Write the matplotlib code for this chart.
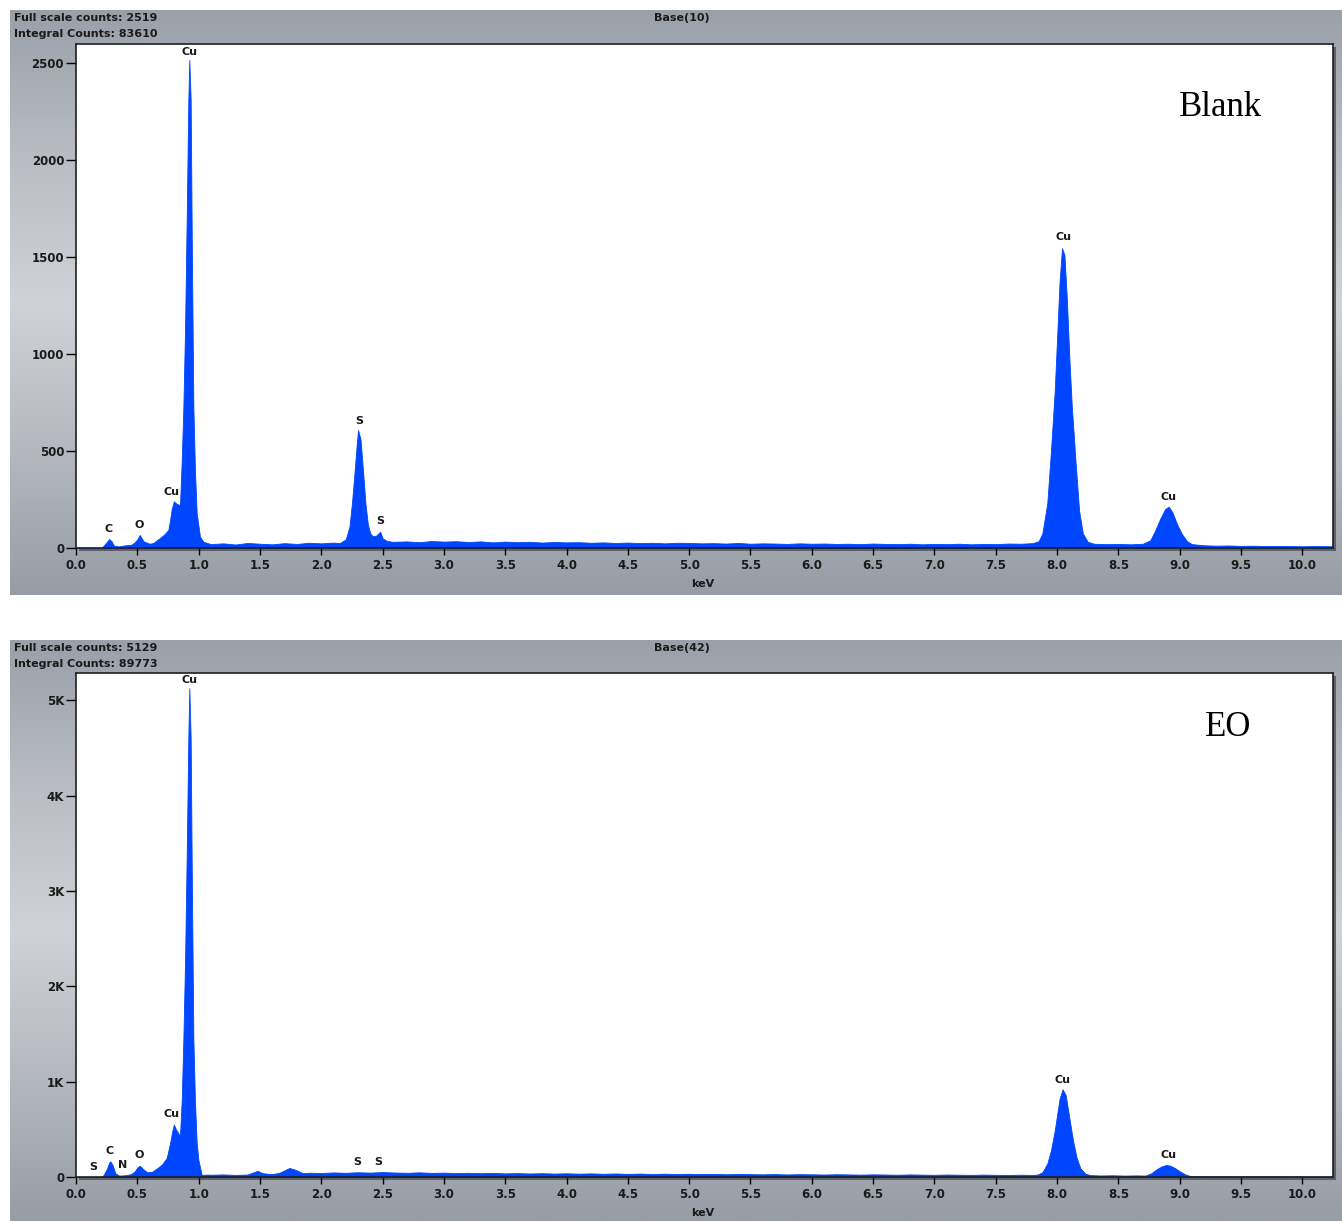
import numpy as np
import matplotlib
matplotlib.use("Agg")
import matplotlib.pyplot as plt
from matplotlib.colors import LinearSegmentedColormap
from matplotlib.patches import Rectangle

W, H = 1342, 1221

### Data (keV, counts)
blank_kev = [0.00, 0.20, 0.22, 0.25, 0.27, 0.29, 0.31, 0.35, 0.40, 0.45, 0.48, 0.50, 0.52, 0.55,
             0.60, 0.63, 0.685, 0.72, 0.753, 0.767, 0.78, 0.798, 0.82, 0.848, 0.862, 0.875, 0.889,
             0.903, 0.916, 0.924, 0.935, 0.944, 0.957, 0.970, 0.984, 1.011, 1.04,
             1.1, 1.2, 1.3, 1.4, 1.5, 1.6, 1.7, 1.8, 1.9, 2.0, 2.1, 2.15,
             2.20, 2.23, 2.25, 2.27, 2.29, 2.30, 2.32, 2.34, 2.36, 2.38, 2.40, 2.42, 2.45, 2.48,
             2.50, 2.53, 2.58,
             2.7, 2.8, 2.9, 3.0, 3.1, 3.2, 3.3, 3.4, 3.5, 3.6, 3.7, 3.8, 3.9, 4.0, 4.1, 4.2, 4.3,
             4.4, 4.5, 4.6, 4.7, 4.8, 4.9, 5.0, 5.1, 5.2, 5.3, 5.4, 5.5, 5.6, 5.7, 5.8, 5.9, 6.0,
             6.1, 6.2, 6.3, 6.4, 6.5, 6.6, 6.7, 6.8, 6.9, 7.0, 7.1, 7.2, 7.3, 7.4, 7.5, 7.6, 7.7,
             7.8, 7.85, 7.88, 7.92, 7.95, 7.98, 8.00, 8.02, 8.04, 8.06, 8.08, 8.10, 8.12, 8.15,
             8.18, 8.21, 8.25, 8.3, 8.4, 8.5, 8.6, 8.7, 8.76, 8.80, 8.84, 8.88, 8.91, 8.94, 8.98,
             9.02, 9.06, 9.10, 9.2, 9.3, 9.4, 9.5, 9.6, 9.7, 9.8, 9.9, 10.0, 10.1, 10.25]
blank_counts = [0, 0, 8, 30, 46, 35, 12, 8, 14, 16, 30, 45, 67, 35,
                22, 26, 52, 70, 93, 144, 200, 240, 228, 221, 450, 711, 1124,
                1708, 2309, 2515, 2309, 1588, 728, 400, 180, 58, 32,
                20, 24, 18, 26, 22, 19, 25, 21, 27, 24, 28, 25,
                45, 110, 230, 380, 540, 608, 560, 400, 230, 120, 75, 60, 65, 84,
                50, 38, 32,
                34, 30, 36, 33, 35, 31, 34, 29, 33, 30, 32, 28, 31, 29, 30, 27, 29,
                26, 28, 25, 27, 24, 27, 26, 24, 25, 23, 26, 22, 24, 23, 21, 24, 22,
                23, 21, 22, 20, 23, 21, 20, 22, 19, 21, 20, 22, 19, 21, 20, 23, 22,
                25, 35, 75, 230, 500, 800, 1080, 1370, 1545, 1510, 1280, 980, 730, 450,
                190, 75, 32, 22, 20, 21, 19, 22, 40, 90, 150, 200, 213, 185, 120,
                70, 35, 20, 14, 12, 13, 11, 12, 10, 11, 10, 9, 10, 9]

eo_kev = [0.00, 0.20, 0.22, 0.25, 0.27, 0.28, 0.30, 0.32, 0.35, 0.40, 0.45, 0.48, 0.50, 0.52,
          0.55, 0.58, 0.62, 0.66, 0.70, 0.74, 0.767, 0.785, 0.798, 0.815, 0.848, 0.862, 0.875,
          0.889, 0.903, 0.916, 0.924, 0.935, 0.944, 0.957, 0.970, 0.984, 0.998, 1.025, 1.06,
          1.1, 1.2, 1.3, 1.4, 1.45, 1.48, 1.52, 1.6, 1.66, 1.70, 1.74, 1.78, 1.85, 1.9, 2.0,
          2.1, 2.2, 2.3, 2.4, 2.5, 2.6, 2.7, 2.8, 2.9, 3.0, 3.1, 3.2, 3.3, 3.4, 3.5, 3.6, 3.7,
          3.8, 3.9, 4.0, 4.1, 4.2, 4.3, 4.4, 4.5, 4.6, 4.7, 4.8, 4.9, 5.0, 5.1, 5.2, 5.3, 5.4,
          5.5, 5.6, 5.7, 5.8, 5.9, 6.0, 6.1, 6.2, 6.3, 6.4, 6.5, 6.6, 6.7, 6.8, 6.9, 7.0, 7.1,
          7.2, 7.3, 7.4, 7.5, 7.6, 7.7, 7.8, 7.84, 7.88, 7.92, 7.95, 7.98, 8.00, 8.02, 8.045,
          8.07, 8.09, 8.11, 8.13, 8.16, 8.19, 8.23, 8.27, 8.35, 8.45, 8.55, 8.65, 8.72, 8.77,
          8.81, 8.85, 8.89, 8.92, 8.96, 9.00, 9.04, 9.08, 9.15, 9.3, 9.5, 9.7, 9.9, 10.1, 10.25]
eo_counts = [0, 0, 10, 80, 150, 165, 120, 40, 15, 18, 30, 60, 100, 118,
             80, 50, 55, 90, 130, 200, 357, 480, 550, 500, 430, 808, 1420,
             2250, 3400, 4600, 5129, 4600, 3200, 1450, 800, 360, 179, 21, 25,
             24, 27, 22, 26, 50, 65, 40, 30, 45, 70, 95, 80, 40, 45, 42,
             48, 44, 50, 46, 52, 47, 44, 49, 43, 46, 41, 44, 40, 43, 38, 41, 37,
             40, 36, 39, 35, 38, 34, 37, 33, 36, 32, 35, 31, 34, 30, 33, 29, 32,
             30, 28, 31, 27, 30, 28, 26, 29, 27, 25, 28, 26, 24, 27, 25, 23, 26,
             24, 22, 25, 23, 21, 24, 22, 25, 50, 140, 280, 480, 650, 820, 920,
             860, 700, 540, 380, 200, 90, 35, 20, 16, 18, 15, 17, 15, 40,
             80, 110, 126, 120, 95, 60, 30, 12, 8, 7, 6, 7, 6, 5, 5]

# peak labels: (text, keV, counts)
blank_labels = [("C", 0.269, 98), ("O", 0.514, 118), ("Cu", 0.775, 289), ("Cu", 0.922, 2556),
                ("S", 2.308, 655), ("S", 2.48, 139), ("Cu", 8.05, 1602), ("Cu", 8.907, 263)]
eo_labels = [("S", 0.139, 105), ("C", 0.277, 273), ("N", 0.383, 126), ("O", 0.514, 231),
             ("Cu", 0.775, 662), ("Cu", 0.922, 5210), ("S", 2.292, 158), ("S", 2.463, 158),
             ("Cu", 8.042, 1019), ("Cu", 8.907, 231)]

blank_yticks = [0, 500, 1000, 1500, 2000, 2500]
blank_yticklabels = ["0", "500", "1000", "1500", "2000", "2500"]
eo_yticks = [0, 1000, 2000, 3000, 4000, 5000]
eo_yticklabels = ["0", "1K", "2K", "3K", "4K", "5K"]

panels = [
    dict(kev=blank_kev, counts=blank_counts, labels=blank_labels, full=2519, integral=83610,
         base="Base(10)", name="Blank", yticks=blank_yticks, yticklabels=blank_yticklabels,
         frame=(10, 595), plot=(44, 548), name_xy=(1220, 107)),
    dict(kev=eo_kev, counts=eo_counts, labels=eo_labels, full=5129, integral=89773,
         base="Base(42)", name="EO", yticks=eo_yticks, yticklabels=eo_yticklabels,
         frame=(640, 1221), plot=(673, 1177), name_xy=(1228, 727)),
]

BLUE = "#0046ff"
grad = LinearSegmentedColormap.from_list("frame", ["#9aa0a8", "#b9bdc3", "#cfd2d6", "#b5b9bf", "#979da5"])

fig = plt.figure(figsize=(W / 100, H / 100), dpi=100)
fig.patch.set_facecolor("white")


def fx(px):
    return px / W


def fy(py):
    return 1 - py / H


for p in panels:
    ftop, fbot = p["frame"]
    bg = fig.add_axes([fx(10), fy(fbot), 1 - fx(10), (fbot - ftop) / H], zorder=0)
    bg.imshow(np.linspace(0, 1, 256).reshape(-1, 1), aspect="auto", cmap=grad,
              extent=[0, 1, 0, 1], origin="upper")
    bg.set_axis_off()

    ptop, pbot = p["plot"]
    left, right = 76, 1333
    # drop shadow behind plot area
    bg.add_patch(Rectangle((fx(left + 3), fy(pbot + 3)), fx(right - left), (pbot - ptop) / H,
                           transform=fig.transFigure, facecolor="#5c6168", edgecolor="none",
                           clip_on=False, zorder=2))

    ax = fig.add_axes([fx(left), fy(pbot), fx(right - left), (pbot - ptop) / H], zorder=1)
    ax.set_facecolor("white")
    ax.fill_between(p["kev"], p["counts"], 0, color=BLUE, linewidth=0.6, edgecolor=BLUE)
    ax.set_xlim(0, 10.25)
    ax.set_ylim(0, p["full"] * 1.031)

    ax.set_xticks(np.arange(0, 10.01, 0.5))
    ax.set_xticklabels([f"{t:.1f}" for t in np.arange(0, 10.01, 0.5)])
    ax.set_yticks(p["yticks"])
    ax.set_yticklabels(p["yticklabels"])
    ax.tick_params(axis="y", length=7, width=1, pad=1.5, labelsize=8.5, colors="black")
    ax.tick_params(axis="x", length=5, width=1, pad=3, labelsize=8.5, colors="black")
    for lab in ax.get_xticklabels() + ax.get_yticklabels():
        lab.set_fontweight("bold")
        lab.set_color("#1a1a1a")
    for s in ax.spines.values():
        s.set_linewidth(1.2)
        s.set_color("#202020")

    for txt, x, y in p["labels"]:
        ax.text(x, y, txt, ha="center", va="center", fontsize=8, fontweight="bold",
                color="#1a1a1a")

    fig.text(fx(14), fy(ftop + 8), f"Full scale counts: {p['full']}", ha="left", va="center",
             fontsize=8, fontweight="bold", color="#1a1a1a")
    fig.text(fx(14), fy(ftop + 24), f"Integral Counts: {p['integral']}", ha="left", va="center",
             fontsize=8, fontweight="bold", color="#1a1a1a")
    fig.text(fx(682), fy(ftop + 8), p["base"], ha="center", va="center",
             fontsize=8, fontweight="bold", color="#1a1a1a")
    fig.text(fx(703), fy(pbot + 36), "keV", ha="center", va="center",
             fontsize=8, fontweight="bold", color="#1a1a1a")
    fig.text(fx(p["name_xy"][0]), fy(p["name_xy"][1]), p["name"], ha="center", va="center",
             fontsize=25, family="Liberation Serif", color="black", zorder=5)

fig.savefig("out.png", dpi=100)
